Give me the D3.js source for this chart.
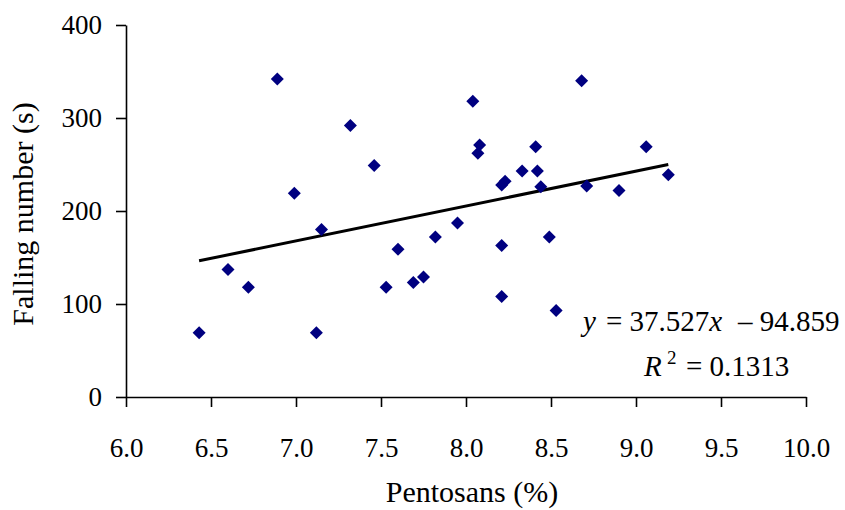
<!DOCTYPE html>
<html>
<head>
<meta charset="utf-8">
<script src="https://cdn.jsdelivr.net/npm/d3@7"></script>
<style>
  body { margin: 0; background: #fff; }
  text { font-family: "Liberation Serif", serif; fill: #000; }
</style>
</head>
<body>
<div id="chart"></div>
<script>
// pentosans (%) and falling number (s) for each sample
var pentosans = [6.43, 6.60, 6.72, 6.89, 6.99, 7.12, 7.15, 7.32, 7.46, 7.53, 7.60,
                 7.69, 7.75, 7.82, 7.95, 8.04, 8.08, 8.07, 8.21, 8.21, 8.21, 8.23,
                 8.33, 8.41, 8.42, 8.44, 8.49, 8.53, 8.68, 8.71, 8.90, 9.06, 9.19];
var fallingNumber = [69, 137, 118, 342, 219, 69, 180, 292, 249, 118, 159,
                     123, 129, 172, 187, 318, 271, 262, 163, 108, 228, 232,
                     243, 269, 243, 226, 172, 93, 340, 227, 222, 269, 239];
var xTicks = [6.0, 6.5, 7.0, 7.5, 8.0, 8.5, 9.0, 9.5, 10.0];
var yTicks = [0, 100, 200, 300, 400];
var slope = 37.527;
var intercept = -94.859;
var r2 = "0.1313";

function init(){
    var w = 845;
    var h = 510;
    var left = 126, right = 806, top = 25, bottom = 397;
    var fs = 27;    // tick labels
    var fsT = 30;   // axis titles
    var fsE = 29;   // equation

    var x = d3.scaleLinear()
                .domain([6, 10])
                .range([left, right]);

    var y = d3.scaleLinear()
                .domain([0, 400])
                .range([bottom, top]);

    var svg = d3.select("#chart")
                .append("svg")
                .attr("width", w)
                .attr("height", h);

    var xAxis = d3.axisBottom(x)
                    .tickValues(xTicks)
                    .tickSizeInner(10)
                    .tickSizeOuter(0)
                    .tickPadding(31)
                    .tickFormat(d3.format(".1f"));

    var yAxis = d3.axisLeft(y)
                    .tickValues(yTicks)
                    .tickSizeInner(10)
                    .tickSizeOuter(0)
                    .tickPadding(14);

    var gx = svg.append("g")
        .attr("transform", "translate(0," + bottom + ")")
        .call(xAxis);

    var gy = svg.append("g")
        .attr("transform", "translate(" + left + ",0)")
        .call(yAxis);

    [gx, gy].forEach(function(g) {
        g.selectAll("path, line").attr("stroke", "#000").attr("stroke-width", 1.6);
        g.selectAll("text")
            .attr("font-family", "Liberation Serif, serif")
            .attr("font-size", fs)
            .attr("fill", "#000");
    });

    // trend line across the data range
    var x0 = d3.min(pentosans), x1 = d3.max(pentosans);
    svg.append("line")
        .attr("x1", x(x0))
        .attr("y1", y(slope * x0 + intercept))
        .attr("x2", x(x1))
        .attr("y2", y(slope * x1 + intercept))
        .attr("stroke", "#000")
        .attr("stroke-width", 3);

    var points = pentosans.map(function(d, i) { return [d, fallingNumber[i]]; });
    var s = 6.5; // half diagonal of the diamond

    svg.selectAll("path.pt")
        .data(points)
        .enter()
        .append("path")
        .attr("class", "pt")
        .attr("d", function(d) {
            var cx = x(d[0]), cy = y(d[1]);
            return "M" + cx + "," + (cy - s) + "L" + (cx + s) + "," + cy +
                   "L" + cx + "," + (cy + s) + "L" + (cx - s) + "," + cy + "Z";
        })
        .attr("fill", "#000080");

    // equation and R squared
    var eq = svg.append("text")
        .attr("y", 331)
        .attr("font-size", fsE);
    eq.append("tspan").attr("x", 583).attr("font-style", "italic").text("y");
    eq.append("tspan").attr("x", 606).text("= 37.527");
    eq.append("tspan").attr("font-style", "italic").text("x");
    eq.append("tspan").attr("x", 738).text("\u2013 94.859");

    var rt = svg.append("text")
        .attr("y", 376)
        .attr("font-size", fsE);
    rt.append("tspan").attr("x", 644).attr("font-style", "italic").text("R");
    rt.append("tspan").attr("x", 667).attr("dy", -12).attr("font-size", 19).text("2");
    rt.append("tspan").attr("x", 686).attr("dy", 12).text("= " + r2);

    // axis titles
    svg.append("text")
        .attr("x", 472)
        .attr("y", 502)
        .attr("text-anchor", "middle")
        .attr("font-size", fsT)
        .text("Pentosans (%)");

    svg.append("text")
        .attr("transform", "translate(33," + 214 + ") rotate(-90)")
        .attr("text-anchor", "middle")
        .attr("font-size", fsT)
        .text("Falling number (s)");
}
window.onload = init;
</script>
</body>
</html>
